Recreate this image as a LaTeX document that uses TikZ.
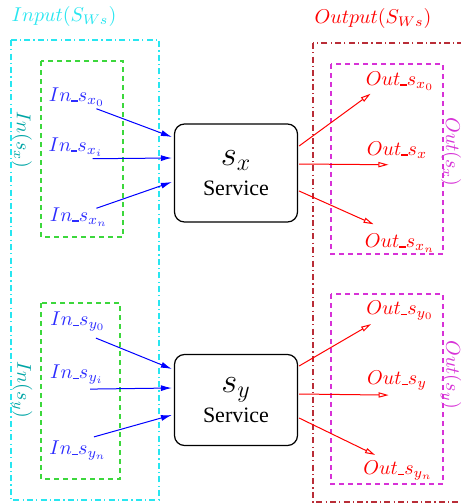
\documentclass[tikz,border=0pt]{standalone}
\usepackage{fontspec}
\newfontfamily\servfont{Liberation Serif}
\usetikzlibrary{arrows.meta}

\definecolor{inblue}{RGB}{45,45,255}
\definecolor{inteal}{RGB}{0,165,165}
\definecolor{incyan}{RGB}{40,230,240}
\definecolor{ingreen}{RGB}{60,215,60}
\definecolor{outdark}{RGB}{185,45,55}
\definecolor{outmag}{RGB}{215,50,215}
\newcommand\ubar{\mbox{\rule[-0.2pt]{3.2pt}{0.7pt}}}

\begin{document}
\begin{tikzpicture}[x=0.5pt, y=-0.5pt,
  inlab/.style={text=inblue, inner sep=0pt},
  outlab/.style={text=red, inner sep=0pt},
  inarr/.style={draw=blue, line width=0.5pt, -{Latex[length=5.5pt,width=3pt]}},
  outarr/.style={draw=red, line width=0.5pt, -{Triangle[open,length=5pt,width=2.6pt]}},
  svc/.style={draw, line width=0.6pt, rounded corners=5pt,
    minimum width=61.5pt, align=center},
  dashdotted/.style={line width=0.6pt,
    dash pattern=on 3pt off 1.6pt on 0.6pt off 1.6pt},
  smalldash/.style={line width=0.6pt, dash pattern=on 2.5pt off 2pt}]
  \useasboundingbox (0,0) rectangle (461,504);

  % frames
  \draw[incyan, dashdotted] (11,40) rectangle (159,500);
  \draw[ingreen, smalldash] (41,61) rectangle (123,237);
  \draw[ingreen, smalldash] (41,303) rectangle (120,479);
  \draw[outdark, dashdotted] (313,43) rectangle (480,502);
  \draw[outmag, smalldash] (331,64) rectangle (443,254);
  \draw[outmag, smalldash] (331,294) rectangle (443,484);

  \node[text=incyan] (intitle) at (64,16) {$Input(S_{Ws})$};
  \node[text=red] (outtitle) at (373,18) {$Output(S_{Ws})$};
  \node[text=inteal, rotate=-90] (insx) at (22,140) {$In(s_x)$};
  \node[text=inteal, rotate=-90] (insy) at (22,390) {$In(s_y)$};
  \node[text=outmag, rotate=-90] (outsx) at (451,152) {$Out(s_x)$};
  \node[text=outmag, rotate=-90] (outsy) at (451,375) {$Out(s_y)$};

  % services
  \node[svc, minimum height=49pt] (sx) at (236,173)
    {{\LARGE $s_x$}\\[3pt] \servfont\fontsize{11}{13}\selectfont Service};
  \node[svc, minimum height=45.5pt] (sy) at (236,400)
    {{\LARGE $s_y$}\\[2pt] \servfont\fontsize{11}{13}\selectfont Service};

  % inputs
  \node[inlab] (inx0) at (77,97) {$In\ubar s_{x_0}$};
  \node[inlab] (inxi) at (76,147) {$In\ubar s_{x_i}$};
  \node[inlab] (inxn) at (79,217) {$In\ubar s_{x_n}$};
  \node[inlab] (iny0) at (78,322) {$In\ubar s_{y_0}$};
  \node[inlab] (inyi) at (77,375) {$In\ubar s_{y_i}$};
  \node[inlab] (inyn) at (78,451) {$In\ubar s_{y_n}$};

  \draw[inarr] ([shift={(-9,2)}]inx0.south east) -- ([shift={(-2,-36)}]sx.west);
  \draw[inarr] ([shift={(-11,2)}]inxi.south east) -- ([shift={(-2,-15)}]sx.west);
  \draw[inarr] ([shift={(-12,1)}]inxn.north east) -- ([shift={(-2,9)}]sx.west);
  \draw[inarr] ([shift={(-10,6)}]iny0.south east) -- ([shift={(-2,-31)}]sy.west);
  \draw[inarr] ([shift={(-14,4)}]inyi.south east) -- ([shift={(-2,-12)}]sy.west);
  \draw[inarr] ([shift={(-13,-4)}]inyn.north east) -- ([shift={(-2,15)}]sy.west);

  % outputs
  \node[outlab] (outx0) at (400,81) {$Out\ubar s_{x_0}$};
  \node[outlab] (outx) at (397,150) {$Out\ubar s_{x}$};
  \node[outlab] (outxn) at (400,243) {$Out\ubar s_{x_n}$};
  \node[outlab] (outy0) at (400,311) {$Out\ubar s_{y_0}$};
  \node[outlab] (outy) at (397,381) {$Out\ubar s_{y}$};
  \node[outlab] (outyn) at (398,471) {$Out\ubar s_{y_n}$};

  \draw[outarr] ([shift={(1,-27)}]sx.east) -- ([shift={(5,3)}]outx0.south west);
  \draw[outarr] ([shift={(1,-9)}]sx.east) -- ([shift={(22,6)}]outx.south west);
  \draw[outarr] ([shift={(1,18)}]sx.east) -- ([shift={(9,-9)}]outxn.north west);
  \draw[outarr] ([shift={(1,-34)}]sy.east) -- ([shift={(5,3)}]outy0.south west);
  \draw[outarr] ([shift={(1,-6)}]sy.east) -- ([shift={(22,4)}]outy.south west);
  \draw[outarr] ([shift={(1,18)}]sy.east) -- ([shift={(12,-6)}]outyn.north west);

\end{tikzpicture}
\end{document}
